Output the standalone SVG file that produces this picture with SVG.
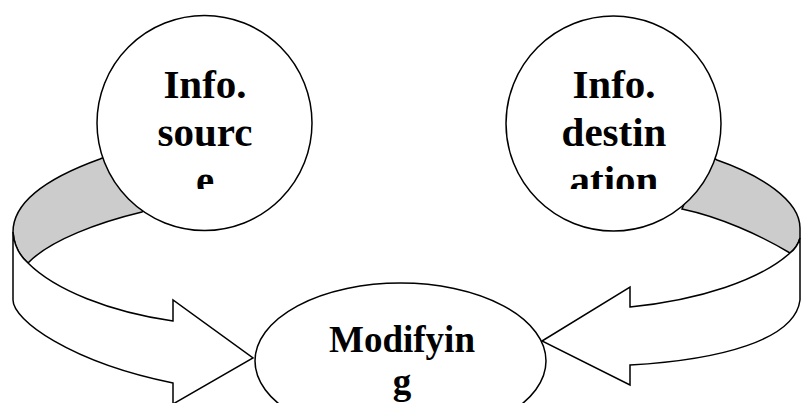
<svg xmlns="http://www.w3.org/2000/svg" width="801" height="403" viewBox="0 0 801 403">
<style>
.ln{stroke:#000;stroke-width:1.5;stroke-linejoin:miter}
.band{fill:#cccccc}
.face{fill:#fff}
.node{fill:#fff;stroke:#000;stroke-width:1.5}
.lbl{font-family:"Liberation Serif","Times New Roman",serif;font-weight:bold;text-anchor:middle;fill:#000}
</style>
<defs>
<clipPath id="clipL"><rect x="100" y="20" width="210" height="169"/></clipPath>
<clipPath id="clipR"><rect x="510" y="20" width="210" height="169"/></clipPath>
</defs>
<rect width="801" height="403" fill="#fff"/>
<g id="connectors">
<g id="arrow-left">
<path class="band ln" d="M100,159 C50,177 13,200 13,232 C14,245 20,256 28,263 C50,240 100,222 142,212 L160,180 L120,150 Z"/>
<path class="face ln" d="M13,232 C14,245 20,256 28,263 C55,290 110,312 173,321 L173,300 L253,358 L173,404 L173,383 C70,362 13,320 13,300 Z"/>
</g>
<g id="arrow-right">
<path class="band ln" d="M717,160 C760,175 800,200 800,228 L800,238 C798,245 794,250 790,253 C760,235 720,217 682,209 L690,190 L700,150 Z"/>
<path class="face ln" d="M790,253 C760,280 700,300 630,307 L630,287 L542,341 L630,385 L630,365 C720,360 795,340 800,300 L800,238 C798,245 794,250 790,253 Z"/>
</g>
</g>
<g id="node-source">
<circle class="node" cx="204.5" cy="123" r="107.5"/>
<g clip-path="url(#clipL)">
<text class="lbl" font-size="41" x="205" y="98">Info.</text>
<text class="lbl" font-size="41" x="205" y="146">sourc</text>
<text class="lbl" font-size="41" x="205" y="194">e</text>
</g>
</g>
<g id="node-destination">
<circle class="node" cx="613.5" cy="123.5" r="107.5"/>
<g clip-path="url(#clipR)">
<text class="lbl" font-size="41" x="614" y="98">Info.</text>
<text class="lbl" font-size="41" x="614" y="146">destin</text>
<text class="lbl" font-size="41" x="614" y="194">ation</text>
</g>
</g>
<g id="node-modifying">
<ellipse class="node" cx="400.5" cy="361" rx="145.5" ry="78"/>
<text class="lbl" font-size="37" x="402" y="352">Modifyin</text>
<text class="lbl" font-size="37" x="402" y="394">g</text>
</g>
</svg>
